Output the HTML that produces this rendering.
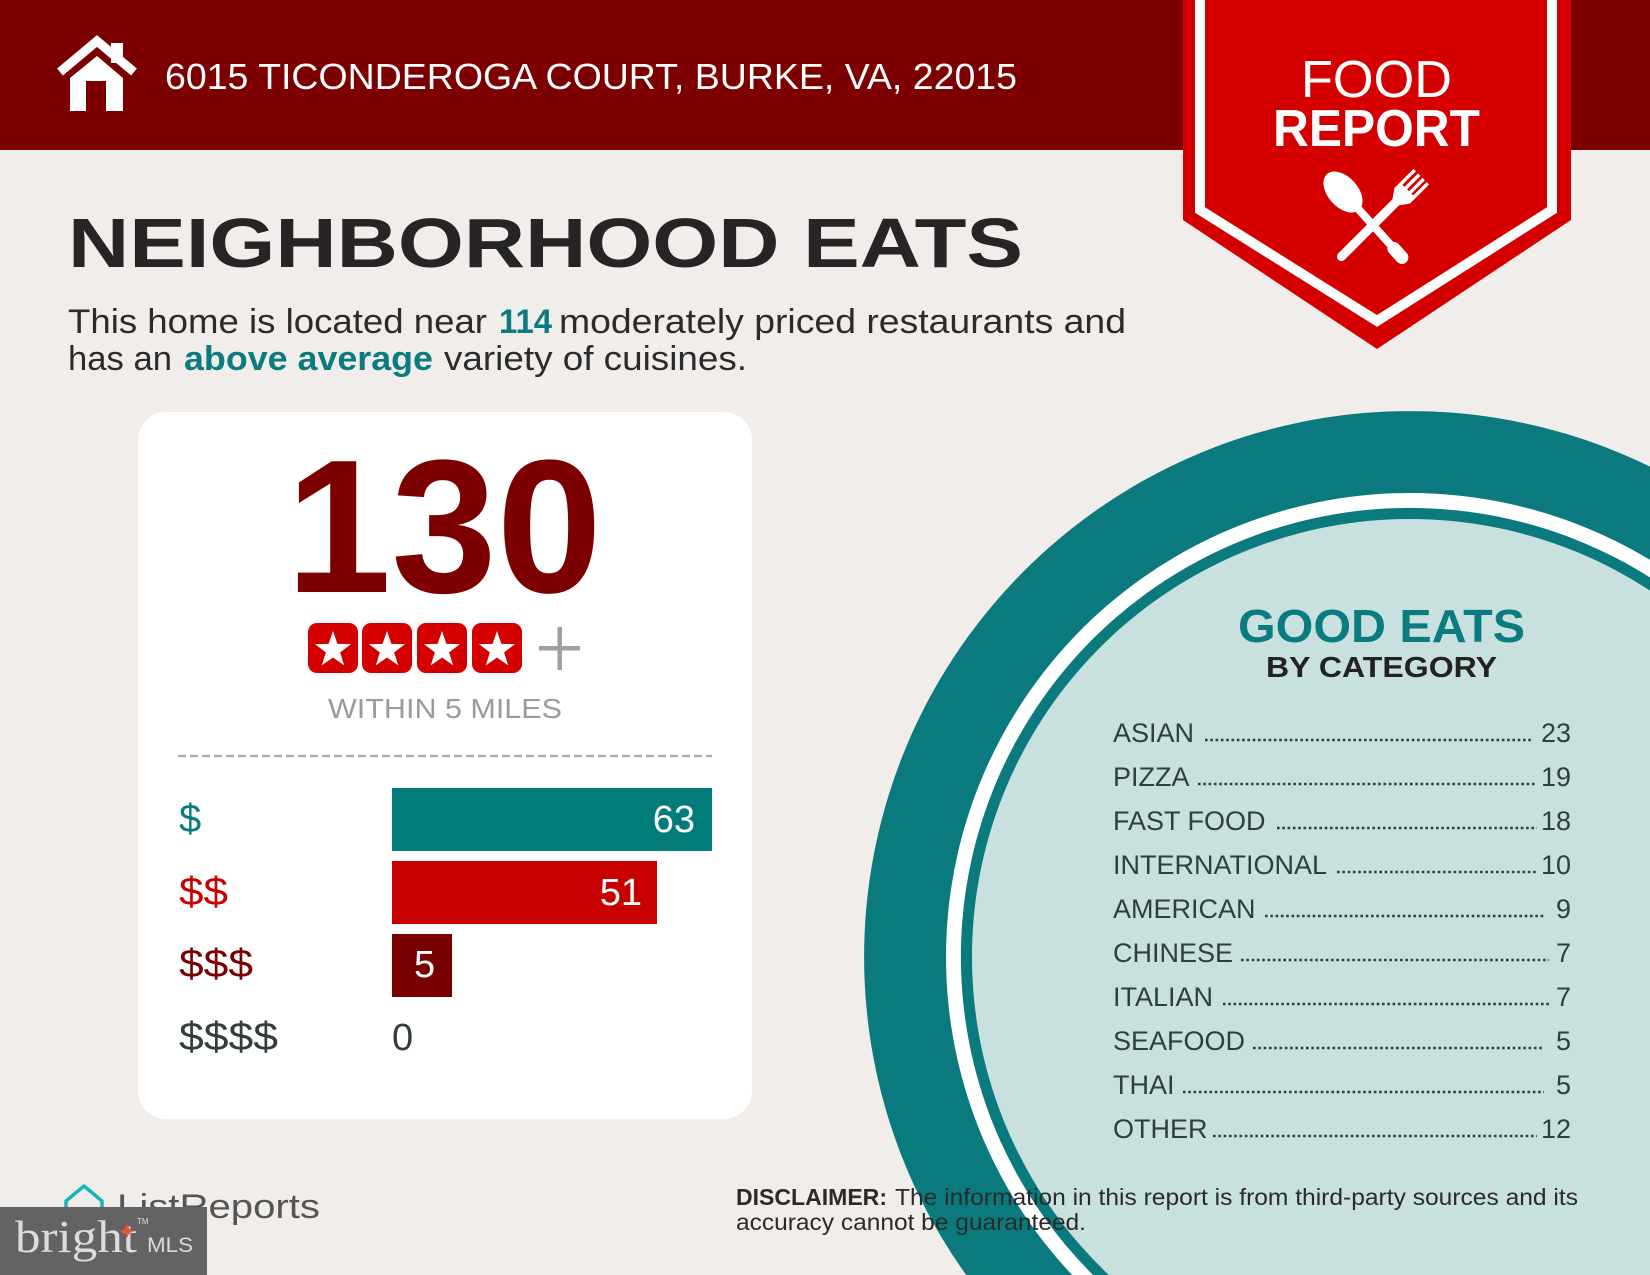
<!DOCTYPE html>
<html>
<head>
<meta charset="utf-8">
<style>
html,body{margin:0;padding:0;background:#f1edea;width:1650px;height:1275px;overflow:hidden;}
svg{display:block;}
</style>
</head>
<body>
<svg width="1650" height="1275" viewBox="0 0 1650 1275" xmlns="http://www.w3.org/2000/svg" font-family="Liberation Sans, Arial, sans-serif">
  <!-- background -->
  <rect x="0" y="0" width="1650" height="1275" fill="#f1edea"/>

  <!-- header band -->
  <rect x="0" y="0" width="1650" height="150" fill="#7d0000"/>

  <!-- house icon -->
  <polyline points="60,72 97,41 134,72" fill="none" stroke="#ffffff" stroke-width="9" stroke-linejoin="miter"/>
  <rect x="111" y="43" width="12" height="20" fill="#ffffff"/>
  <polygon points="70,78 97,56 123,78 123,111 70,111" fill="#ffffff"/>
  <rect x="86" y="81" width="20" height="30" fill="#7d0000"/>

  <!-- address -->
  <text x="165" y="89" font-size="36" fill="#ffffff" textLength="852" lengthAdjust="spacingAndGlyphs">6015 TICONDEROGA COURT, BURKE, VA, 22015</text>

  <!-- ribbon -->
  <polygon points="1183,0 1571,0 1571,220 1377,349 1183,220" fill="#d40000"/>
  <polyline points="1200,0 1200,210 1377,321 1552,210 1552,0" fill="none" stroke="#ffffff" stroke-width="10" stroke-linejoin="miter"/>
  <text x="1301" y="97" font-size="52" fill="#ffffff" textLength="151" lengthAdjust="spacingAndGlyphs">FOOD</text>
  <text x="1273" y="146" font-size="52" font-weight="bold" fill="#ffffff" textLength="207" lengthAdjust="spacingAndGlyphs">REPORT</text>

  <!-- fork -->
  <g transform="translate(1398,200) rotate(-45)" fill="#ffffff">
    <line x1="-3" y1="0" x2="-80" y2="0" stroke="#ffffff" stroke-width="9" stroke-linecap="round"/>
    <polygon points="-4,-4 6,-11 14,-11 14,11 6,11 -4,4"/>
    <rect x="13" y="-11" width="20" height="3.4"/>
    <rect x="13" y="-4.6" width="20" height="3.4"/>
    <rect x="13" y="1.6" width="20" height="3.4"/>
    <rect x="13" y="7.6" width="20" height="3.4"/>
  </g>
  <!-- spoon -->
  <g transform="translate(1343,192) rotate(48)" fill="#ffffff">
    <ellipse cx="0" cy="0" rx="24" ry="15"/>
    <line x1="18" y1="0" x2="86" y2="0" stroke="#ffffff" stroke-width="8" stroke-linecap="round"/>
    <line x1="76" y1="0" x2="88" y2="0" stroke="#ffffff" stroke-width="13" stroke-linecap="round"/>
  </g>

  <!-- headline -->
  <text x="68" y="267" font-size="70" font-weight="bold" fill="#262424" textLength="955" lengthAdjust="spacingAndGlyphs">NEIGHBORHOOD EATS</text>

  <!-- paragraph -->
  <g font-size="34" fill="#2b2b2b">
    <text x="68" y="333" textLength="419" lengthAdjust="spacingAndGlyphs">This home is located near</text>
    <text x="499" y="333" font-weight="bold" fill="#0a7b7e" textLength="53" lengthAdjust="spacingAndGlyphs">114</text>
    <text x="559" y="333" textLength="567" lengthAdjust="spacingAndGlyphs">moderately priced restaurants and</text>
    <text x="68" y="370" textLength="104" lengthAdjust="spacingAndGlyphs">has an</text>
    <text x="184" y="370" font-weight="bold" fill="#0a7b7e" textLength="249" lengthAdjust="spacingAndGlyphs">above average</text>
    <text x="444" y="370" textLength="303" lengthAdjust="spacingAndGlyphs">variety of cuisines.</text>
  </g>

  <!-- card -->
  <rect x="138" y="412" width="614" height="707" rx="28" ry="28" fill="#ffffff"/>
  <text x="286" y="592" font-size="190" font-weight="bold" fill="#7d0000" textLength="316" lengthAdjust="spacingAndGlyphs">130</text>

  <!-- stars -->
  <g>
    <rect x="308" y="623" width="50" height="50" rx="9" fill="#d40000"/>
    <rect x="362" y="623" width="50" height="50" rx="9" fill="#d40000"/>
    <rect x="417" y="623" width="50" height="50" rx="9" fill="#d40000"/>
    <rect x="472" y="623" width="50" height="50" rx="9" fill="#d40000"/>
    <g fill="#ffffff">
      <polygon transform="translate(333,650)" points="0,-19 4.41,-6.07 18.07,-5.87 7.13,2.32 11.17,15.37 0,7.5 -11.17,15.37 -7.13,2.32 -18.07,-5.87 -4.41,-6.07"/>
      <polygon transform="translate(387,650)" points="0,-19 4.41,-6.07 18.07,-5.87 7.13,2.32 11.17,15.37 0,7.5 -11.17,15.37 -7.13,2.32 -18.07,-5.87 -4.41,-6.07"/>
      <polygon transform="translate(442,650)" points="0,-19 4.41,-6.07 18.07,-5.87 7.13,2.32 11.17,15.37 0,7.5 -11.17,15.37 -7.13,2.32 -18.07,-5.87 -4.41,-6.07"/>
      <polygon transform="translate(497,650)" points="0,-19 4.41,-6.07 18.07,-5.87 7.13,2.32 11.17,15.37 0,7.5 -11.17,15.37 -7.13,2.32 -18.07,-5.87 -4.41,-6.07"/>
    </g>
    <rect x="539" y="646" width="41" height="4.5" fill="#a0a0a0"/>
    <rect x="557.5" y="627" width="4.5" height="43" fill="#a0a0a0"/>
  </g>
  <text x="328" y="718" font-size="28" fill="#9b9b9b" textLength="234" lengthAdjust="spacingAndGlyphs">WITHIN 5 MILES</text>

  <!-- dashed divider -->
  <line x1="178" y1="756" x2="712" y2="756" stroke="#aaaaaa" stroke-width="2.5" stroke-dasharray="8 4"/>

  <!-- bars -->
  <rect x="392" y="788" width="320" height="63" fill="#027b7b"/>
  <rect x="392" y="861" width="265" height="63" fill="#c80000"/>
  <rect x="392" y="934" width="60" height="63" fill="#780000"/>

  <g font-size="38" fill="#ffffff">
    <text x="695" y="832" text-anchor="end">63</text>
    <text x="642" y="905" text-anchor="end">51</text>
    <text x="414" y="977">5</text>
  </g>
  <text x="392" y="1050" font-size="38" fill="#333d3d">0</text>

  <g font-size="40">
    <text x="179" y="832" fill="#0a7b7e">$</text>
    <text x="179" y="905" fill="#c80000" textLength="49" lengthAdjust="spacingAndGlyphs">$$</text>
    <text x="179" y="977" fill="#780000" textLength="74" lengthAdjust="spacingAndGlyphs">$$$</text>
    <text x="179" y="1050" fill="#333d3d" textLength="99" lengthAdjust="spacingAndGlyphs">$$$$</text>
  </g>

  <!-- plate circle (clipped to frame as paths) -->
  <path d="M 966.2 1275 A 546 546 0 0 1 1650 466.6 L 1650 1275 Z" fill="#0b7a7e"/>
  <path d="M 1072.1 1275 A 464 464 0 0 1 1650 559.9 L 1650 1275 Z" fill="#ffffff"/>
  <path d="M 1093 1275 A 449 449 0 0 1 1650 577.5 L 1650 1275 Z" fill="#0b7a7e"/>
  <path d="M 1108.8 1275 A 438 438 0 0 1 1650 590.6 L 1650 1275 Z" fill="#c8e0de"/>

  <text x="1238" y="642" font-size="46" font-weight="bold" fill="#0a7b7e" textLength="287" lengthAdjust="spacingAndGlyphs">GOOD EATS</text>
  <text x="1266" y="677" font-size="29" font-weight="bold" fill="#222222" textLength="231" lengthAdjust="spacingAndGlyphs">BY CATEGORY</text>

  <!-- category list -->
  <g font-size="27" fill="#303e3e">
    <text x="1113" y="742">ASIAN</text>
    <text x="1113" y="786">PIZZA</text>
    <text x="1113" y="830">FAST FOOD</text>
    <text x="1113" y="874">INTERNATIONAL</text>
    <text x="1113" y="918">AMERICAN</text>
    <text x="1113" y="962">CHINESE</text>
    <text x="1113" y="1006">ITALIAN</text>
    <text x="1113" y="1050">SEAFOOD</text>
    <text x="1113" y="1094">THAI</text>
    <text x="1113" y="1138">OTHER</text>
  </g>
  <g font-size="27" fill="#303e3e" text-anchor="end">
    <text x="1571" y="742">23</text>
    <text x="1571" y="786">19</text>
    <text x="1571" y="830">18</text>
    <text x="1571" y="874">10</text>
    <text x="1571" y="918">9</text>
    <text x="1571" y="962">7</text>
    <text x="1571" y="1006">7</text>
    <text x="1571" y="1050">5</text>
    <text x="1571" y="1094">5</text>
    <text x="1571" y="1138">12</text>
  </g>
  <g stroke="#303e3e" stroke-width="2.6" stroke-dasharray="2.6 2.7">
    <line x1="1205" y1="740" x2="1532" y2="740"/>
    <line x1="1198" y1="784" x2="1537" y2="784"/>
    <line x1="1277" y1="828" x2="1537" y2="828"/>
    <line x1="1337" y1="872" x2="1536" y2="872"/>
    <line x1="1265" y1="916" x2="1544" y2="916"/>
    <line x1="1241" y1="960" x2="1549" y2="960"/>
    <line x1="1223" y1="1004" x2="1549" y2="1004"/>
    <line x1="1253" y1="1048" x2="1544" y2="1048"/>
    <line x1="1183" y1="1092" x2="1544" y2="1092"/>
    <line x1="1213" y1="1136" x2="1537" y2="1136"/>
  </g>

  <!-- disclaimer -->
  <g font-size="23" fill="#2a2a2a">
    <text x="736" y="1205" font-weight="bold" textLength="151" lengthAdjust="spacingAndGlyphs">DISCLAIMER:</text>
    <text x="895" y="1205" textLength="683" lengthAdjust="spacingAndGlyphs">The information in this report is from third-party sources and its</text>
    <text x="736" y="1230" textLength="350" lengthAdjust="spacingAndGlyphs">accuracy cannot be guaranteed.</text>
  </g>

  <!-- ListReports logo -->
  <polygon points="66,1201 84,1186 102,1201 102,1228 66,1228" fill="none" stroke="#1ab5b8" stroke-width="3.5" stroke-linejoin="round"/>
  <text x="117" y="1218" font-size="34" fill="#555555" textLength="203" lengthAdjust="spacingAndGlyphs">ListReports</text>

  <!-- bright MLS badge -->
  <rect x="0" y="1207" width="207" height="68" fill="#636363"/>
  <text x="15" y="1252" font-family="Liberation Serif, serif" font-size="46" fill="#dcdcdc" textLength="122" lengthAdjust="spacingAndGlyphs">bright</text>
  <polygon points="127,1224 129.5,1229 134,1231 129.5,1233 127,1238 124.5,1233 120,1231 124.5,1229" fill="#e8582a"/>
  <text x="137" y="1224" font-size="8" fill="#dcdcdc">TM</text>
  <text x="147" y="1252" font-size="21" fill="#dcdcdc" textLength="46" lengthAdjust="spacingAndGlyphs">MLS</text>
</svg>
</body>
</html>
